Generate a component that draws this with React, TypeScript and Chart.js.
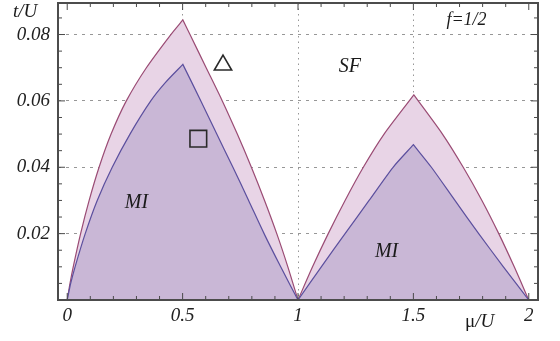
import React, { useEffect, useRef } from "react";
import { Chart, registerables } from "chart.js";

Chart.register(...registerables);

// Outer lobe boundary (pink); peaks and cusps are repeated to keep them sharp
const outerMu = [0, 0.012, 0.026, 0.058, 0.095, 0.138, 0.19, 0.256, 0.343, 0.449, 0.501, 0.501, 0.532, 0.602, 0.672, 0.737, 0.798, 0.855, 0.908, 0.956, 1, 1,
  1.063, 1.131, 1.204, 1.283, 1.373, 1.502, 1.502, 1.626, 1.716, 1.797, 1.87, 1.937, 2];
const outerT = [0, 0.005, 0.01, 0.02, 0.03, 0.04, 0.05, 0.06, 0.07, 0.08, 0.0844, 0.0844, 0.08, 0.07, 0.06, 0.05, 0.04, 0.03, 0.02, 0.01, 0, 0,
  0.01, 0.02, 0.03, 0.04, 0.05, 0.0618, 0.0618, 0.05, 0.04, 0.03, 0.02, 0.01, 0];
// Inner lobe boundary (purple)
const innerMu = [0, 0.015, 0.034, 0.078, 0.13, 0.195, 0.272, 0.362, 0.425, 0.501, 0.501, 0.579, 0.648, 0.718, 0.786, 0.853, 0.925, 1, 1,
  1.101, 1.204, 1.308, 1.412, 1.5, 1.5, 1.578, 1.68, 1.783, 1.89, 2];
const innerT = [0, 0.005, 0.01, 0.02, 0.03, 0.04, 0.05, 0.06, 0.0655, 0.071, 0.071, 0.06, 0.05, 0.04, 0.03, 0.02, 0.01, 0, 0,
  0.01, 0.02, 0.03, 0.04, 0.0468, 0.0468, 0.04, 0.03, 0.02, 0.01, 0];

const xTicks = [0, 0.5, 1, 1.5, 2];
const xTickLabels = ["0", "0.5", "1", "1.5", "2"];
const yTicks = [0.02, 0.04, 0.06, 0.08];
const yTickLabels = ["0.02", "0.04", "0.06", "0.08"];

const triangleMarker = [{ x: 0.675, y: 0.0708 }];
const squareMarker = [{ x: 0.568, y: 0.0486 }];

const regionLabels = [
  { text: "MI", x: 0.3, y: 0.0292 },
  { text: "MI", x: 1.384, y: 0.0144 },
  { text: "SF", x: 1.225, y: 0.0703 },
  { text: "f=1/2", x: 1.73, y: 0.0844 },
];

const SERIF = "'Liberation Serif', 'Times New Roman', serif";

const framePlugin = {
  id: "frame",
  afterDraw(chart: any) {
    const { ctx, chartArea: a, scales } = chart;
    const xs = scales.x;
    const ys = scales.y;
    ctx.save();
    ctx.strokeStyle = "#4a4a4a";
    ctx.lineWidth = 1;
    for (let i = 0; i <= 20; i++) {
      const v = i / 10;
      const px = xs.getPixelForValue(v);
      const major = i % 5 === 0;
      const len = major ? 7 : 4;
      ctx.beginPath();
      ctx.moveTo(px, a.bottom);
      ctx.lineTo(px, a.bottom - len);
      ctx.moveTo(px, a.top);
      ctx.lineTo(px, a.top + len);
      ctx.stroke();
    }
    for (let i = 1; i <= 17; i++) {
      const v = i * 0.005;
      const py = ys.getPixelForValue(v);
      const major = i % 4 === 0;
      const len = major ? 7 : 4;
      ctx.beginPath();
      ctx.moveTo(a.left, py);
      ctx.lineTo(a.left + len, py);
      ctx.moveTo(a.right, py);
      ctx.lineTo(a.right - len, py);
      ctx.stroke();
    }
    ctx.lineWidth = 2;
    ctx.strokeStyle = "#4c4c4c";
    ctx.strokeRect(a.left, a.top, a.right - a.left, a.bottom - a.top);

    ctx.fillStyle = "#1a1a1a";
    ctx.textAlign = "center";
    ctx.textBaseline = "middle";
    for (const l of regionLabels) {
      ctx.font = l.text === "f=1/2" ? `italic 18px ${SERIF}` : `italic 20px ${SERIF}`;
      ctx.fillText(l.text, xs.getPixelForValue(l.x), ys.getPixelForValue(l.y));
    }
    ctx.font = `italic 19px ${SERIF}`;
    ctx.textAlign = "left";
    ctx.textBaseline = "alphabetic";
    ctx.fillText("t/U", 13, 17);
    ctx.font = `19px ${SERIF}`;
    const muW = ctx.measureText("\u03bc").width;
    ctx.fillText("\u03bc", 465, 327);
    ctx.font = `italic 19px ${SERIF}`;
    ctx.fillText("/U", 465 + muW, 327);
    ctx.restore();
  },
};

const zeroPad = (s: any) => {
  s.paddingTop = 0;
  s.paddingBottom = 0;
  s.paddingLeft = 0;
  s.paddingRight = 0;
};

export default function App() {
  const ref = useRef<HTMLCanvasElement>(null);
  useEffect(() => {
    if (!ref.current) return;
    const chart = new Chart(ref.current, {
      type: "line",
      data: {
        datasets: [
          {
            type: "scatter",
            data: triangleMarker,
            pointStyle: "triangle",
            radius: 10,
            borderColor: "#2a2a2a",
            backgroundColor: "rgba(0,0,0,0)",
            borderWidth: 1.6,
          } as any,
          {
            type: "scatter",
            data: squareMarker,
            pointStyle: "rect",
            radius: 11.8,
            borderColor: "#2a2a2a",
            backgroundColor: "rgba(0,0,0,0)",
            borderWidth: 1.6,
          } as any,
          {
            data: innerMu.map((m, i) => ({ x: m, y: innerT[i] })),
            borderColor: "#5b4f9e",
            borderWidth: 1.2,
            backgroundColor: "#c9b7d6",
            fill: "origin",
            pointRadius: 0,
            tension: 0.25,
          },
          {
            data: outerMu.map((m, i) => ({ x: m, y: outerT[i] })),
            borderColor: "#9a4b74",
            borderWidth: 1.2,
            backgroundColor: "#e8d4e6",
            fill: "origin",
            pointRadius: 0,
            tension: 0.25,
          },
        ],
      },
      options: {
        animation: false,
        responsive: false,
        layout: { autoPadding: false, padding: { top: 3, right: 22, left: 0, bottom: 0 } },
        plugins: { legend: { display: false }, tooltip: { enabled: false } },
        scales: {
          x: {
            type: "linear",
            min: -0.04,
            max: 2.04,
            afterBuildTicks: (s: any) => {
              s.ticks = xTicks.map((v) => ({ value: v }));
            },
            afterFit: (s: any) => {
              s.height = 41;
              zeroPad(s);
            },
            ticks: {
              padding: 5,
              color: "#222",
              font: { family: SERIF, size: 19, style: "italic" },
              callback: (v: any) => {
                const i = xTicks.indexOf(Number(v));
                return i >= 0 ? xTickLabels[i] : "";
              },
              maxRotation: 0,
            },
            border: { display: false, dash: [1.5, 4] },
            grid: {
              drawTicks: false,
              color: (c: any) => (c.tick && (c.tick.value === 0 || c.tick.value === 2) ? "rgba(0,0,0,0)" : "rgba(140,140,140,0.9)"),
              lineWidth: 1,
            },
          },
          y: {
            type: "linear",
            min: 0,
            max: 0.0895,
            afterBuildTicks: (s: any) => {
              s.ticks = yTicks.map((v) => ({ value: v }));
            },
            afterFit: (s: any) => {
              s.width = 58;
              zeroPad(s);
            },
            ticks: {
              padding: 8,
              color: "#222",
              font: { family: SERIF, size: 19, style: "italic" },
              callback: (v: any) => {
                const i = yTicks.indexOf(Number(v));
                return i >= 0 ? yTickLabels[i] : "";
              },
            },
            border: { display: false, dash: [3, 5] },
            grid: {
              drawTicks: false,
              color: "rgba(140,140,140,0.9)",
              lineWidth: 1,
            },
          },
        },
      },
      plugins: [framePlugin],
    } as any);
    return () => chart.destroy();
  }, []);
  return (
    <div style={{ position: "fixed", left: 0, top: 0, width: 560, height: 341, background: "#fff" }}>
      <canvas ref={ref} width={560} height={341} style={{ width: 560, height: 341, display: "block" }} />
    </div>
  );
}
